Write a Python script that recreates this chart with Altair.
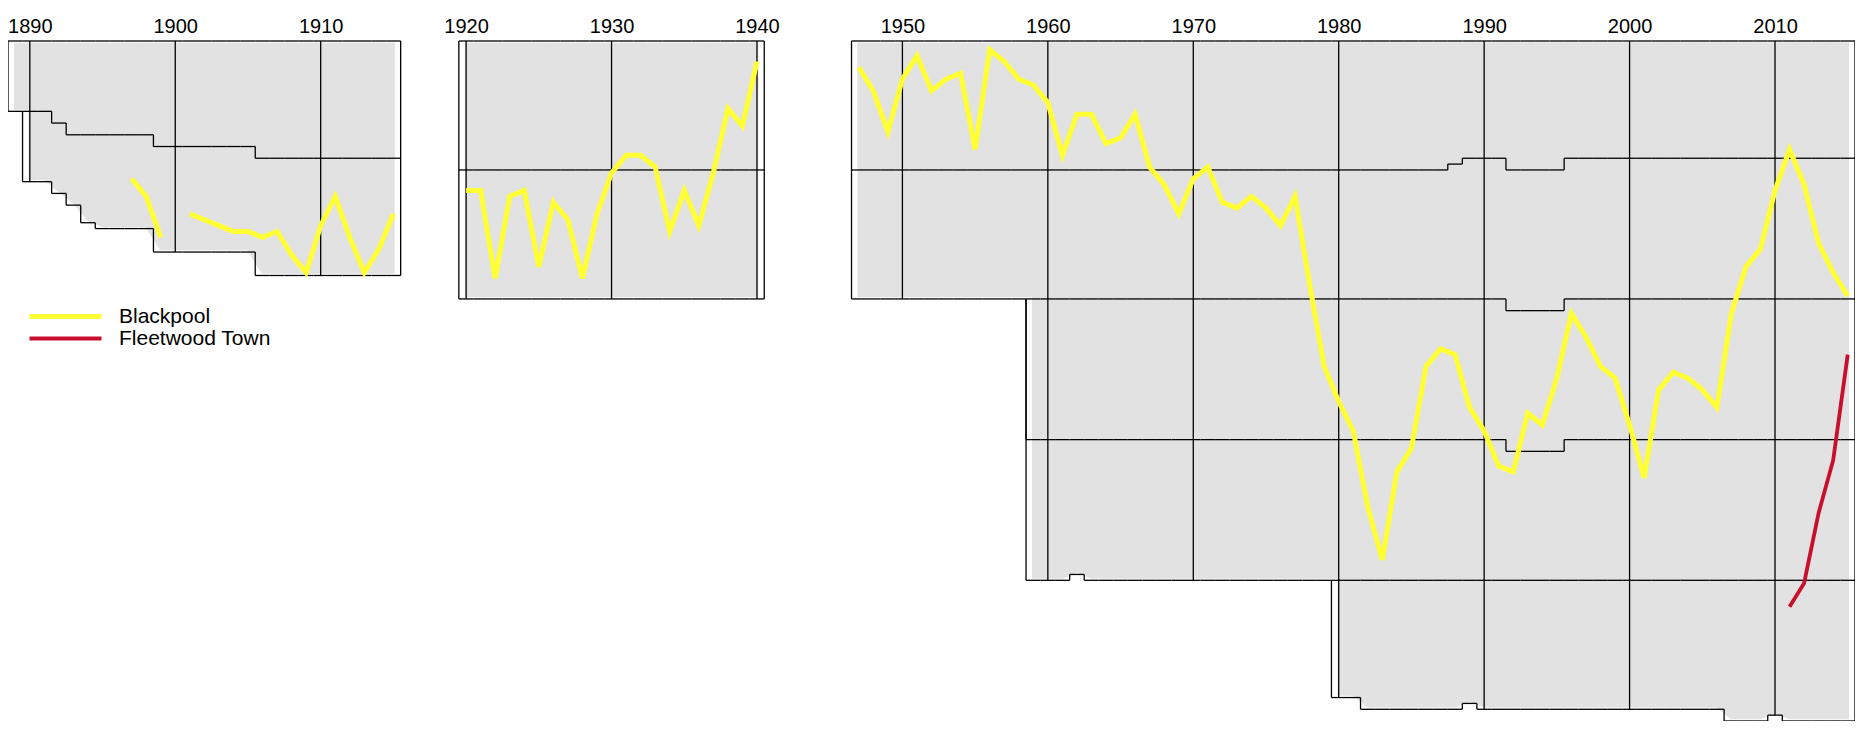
import altair as alt
import pandas as pd

FONT = "Liberation Sans, Arial, sans-serif"
GREY = "#E2E2E2"
YELLOW = "#FFFF33"
RED = "#C8102E"

# Eras shown (season-end years)
BLOCKS = [(1889, 1915), (1920, 1940), (1947, 2015)]

# Clubs per tier: (first season-end year, last season-end year, clubs)
TIER1 = [(1889, 1891, 12), (1892, 1892, 14), (1893, 1898, 16), (1899, 1905, 18),
         (1906, 1915, 20), (1920, 1940, 22), (1947, 1987, 22), (1988, 1988, 21),
         (1989, 1991, 20), (1992, 1995, 22), (1996, 2015, 20)]
TIER2 = [(1890, 1893, 12), (1894, 1894, 15), (1895, 1898, 16), (1899, 1905, 18),
         (1906, 1915, 20), (1920, 1940, 22), (1947, 1987, 22), (1988, 1988, 23),
         (1989, 2015, 24)]
TIER3 = [(1959, 2015, 24)]
TIER4 = [(1959, 1961, 24), (1962, 1962, 23), (1963, 1991, 24), (1992, 1995, 22),
         (1996, 2015, 24)]
TIER5 = [(1980, 1981, 20), (1982, 1988, 22), (1989, 1989, 21), (1990, 2006, 22),
         (2007, 2009, 24), (2010, 2010, 23), (2011, 2015, 24)]
TIERS = [TIER1, TIER2, TIER3, TIER4, TIER5]

DECADES = [1890, 1900, 1910, 1920, 1930, 1940, 1950, 1960, 1970, 1980, 1990, 2000, 2010]

# Overall position (1 = top of the top tier)
BP_YEARS_1 = [1897, 1898, 1899]
BP_POS_1 = [24, 27, 34]
BP_YEARS_2 = list(range(1901, 1916))
BP_POS_2 = [30, 31, 32, 33, 33, 34, 33, 37, 40, 32, 27, 34, 40, 36, 30]
BP_YEARS_3 = list(range(1920, 1941))
BP_POS_3 = [26, 26, 41, 27, 26, 39, 28, 31, 41, 30, 23, 20, 20, 22, 33, 26, 32, 23, 12, 15, 4]
BP_YEARS_4 = list(range(1947, 2016))
BP_POS_4 = [5, 9, 16, 7, 3, 9, 7, 6, 19, 2, 4, 7, 8, 11, 20, 13, 13, 18, 17, 13,
            22, 25, 30, 24, 22, 28, 29, 27, 29, 32, 27, 42, 56, 62, 67, 80, 89, 74, 70, 56,
            53, 54, 63, 67, 73, 74, 64, 66, 58, 47, 51, 56, 58, 66, 75, 60, 57, 58, 60, 63,
            47, 39, 36, 26, 19, 25, 35, 40, 44]
FT_YEARS = [2011, 2012, 2013, 2014, 2015]
FT_POS = [97, 93, 81, 72, 54]

CLUBS = ["Blackpool", "Fleetwood Town"]


def tier_size(tier, year):
    for a, b, n in tier:
        if a <= year <= b:
            return n
    return 0


def bounds(year):
    out = [0]
    for t in TIERS:
        n = tier_size(t, year)
        if n:
            out.append(out[-1] + n)
    return out


# ---- division boundary lines, frame and decade lines ----
segs = []
for a, b in BLOCKS:
    for yr in range(a, b + 1):
        bd = bounds(yr)
        for v in bd:
            segs.append((yr - 0.5, yr + 0.5, v + 0.5, v + 0.5))
        if yr == a:
            segs.append((yr - 0.5, yr - 0.5, 0.5, bd[-1] + 0.5))
        if yr == b:
            segs.append((yr + 0.5, yr + 0.5, 0.5, bd[-1] + 0.5))
        else:
            nx = bounds(yr + 1)
            for i in range(max(len(bd), len(nx))):
                p = bd[min(i, len(bd) - 1)]
                n = nx[min(i, len(nx) - 1)]
                if p != n:
                    segs.append((yr + 0.5, yr + 0.5, p + 0.5, n + 0.5))
        if yr in DECADES:
            segs.append((yr, yr, 0.5, bd[-1] + 0.5))
seg_df = pd.DataFrame(segs, columns=["x", "x2", "y", "y2"])

# ---- grey band covering every club's path ----
rows = []
for a, b in BLOCKS:
    for k in range(len(TIERS)):
        yrs = [yr for yr in range(a, b + 1) if len(bounds(yr)) > k + 1]
        for yr in yrs:
            rows.append({"piece": f"{a}-{k}", "x": yr, "y": 1, "y2": bounds(yr)[k + 1]})
area_df = pd.DataFrame(rows)

# ---- club lines ----
club_rows = []
for seg, (ys, ps) in enumerate([(BP_YEARS_1, BP_POS_1), (BP_YEARS_2, BP_POS_2),
                                 (BP_YEARS_3, BP_POS_3), (BP_YEARS_4, BP_POS_4)]):
    for yr, p in zip(ys, ps):
        club_rows.append({"club": "Blackpool", "seg": f"bp{seg}", "x": yr, "y": p})
for yr, p in zip(FT_YEARS, FT_POS):
    club_rows.append({"club": "Fleetwood Town", "seg": "ft", "x": yr, "y": p})
club_df = pd.DataFrame(club_rows)

xscale = alt.Scale(domain=[1888.5, 2015.5], nice=False, zero=False)
yscale = alt.Scale(domain=[0.5, 116.5], nice=False, zero=False, reverse=True)
xaxis = alt.Axis(orient="top", values=DECADES, format="d", domain=False, ticks=False,
                 tickSize=0, grid=False, labelFontSize=20, labelFont=FONT,
                 labelColor="black", labelPadding=5, title=None, labelFlush=False)

area = alt.Chart(area_df).mark_area(fill=GREY, stroke=GREY, strokeWidth=2.5,
                                    interpolate="linear").encode(
    x=alt.X("x:Q", scale=xscale, axis=xaxis),
    y=alt.Y("y:Q", scale=yscale, axis=None),
    y2="y2:Q",
    detail="piece:N",
)

rules = alt.Chart(seg_df).mark_rule(color="black", strokeWidth=1.3).encode(
    x=alt.X("x:Q", scale=xscale, axis=xaxis),
    x2="x2:Q",
    y=alt.Y("y:Q", scale=yscale, axis=None),
    y2="y2:Q",
)

lines = alt.Chart(club_df).mark_line(strokeCap="butt").encode(
    x=alt.X("x:Q", scale=xscale, axis=xaxis),
    y=alt.Y("y:Q", scale=yscale, axis=None),
    detail="seg:N",
    color=alt.Color("club:N", scale=alt.Scale(domain=CLUBS, range=[YELLOW, RED]),
                    legend=alt.Legend(orient="none", legendX=19, legendY=267, title=None,
                                      symbolType="stroke", symbolSize=5184,
                                      symbolStrokeWidth=4, labelFontSize=21,
                                      labelFont=FONT, labelColor="black",
                                      clipHeight=17, rowPadding=0, labelOffset=15)),
    strokeWidth=alt.StrokeWidth("club:N", scale=alt.Scale(domain=CLUBS, range=[5, 3.8]),
                                legend=None),
)

chart = alt.layer(area, rules, lines).properties(
    width=1847, height=680,
    autosize=alt.AutoSizeParams(type="none"),
    padding={"left": 0, "top": 33, "right": 0, "bottom": 0},
).configure_view(stroke=None)

chart.save("out.html", embed_options={"renderer": "svg", "actions": False})
